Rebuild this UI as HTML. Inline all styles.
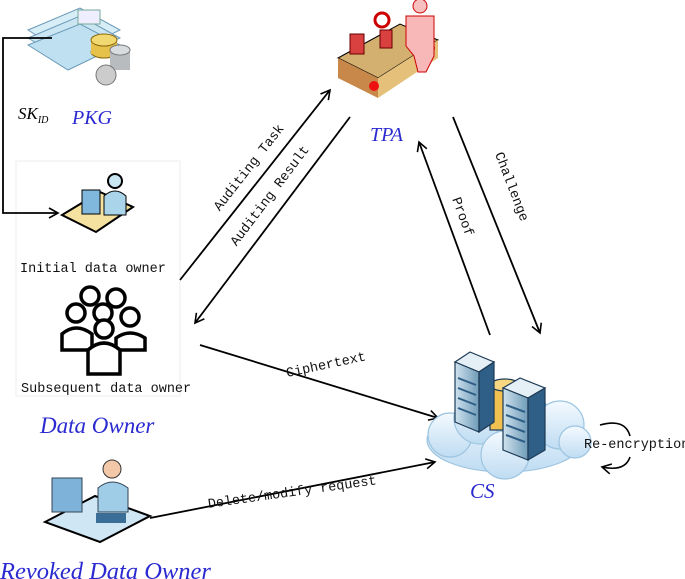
<!DOCTYPE html>
<html><head><meta charset="utf-8"><style>
html,body{margin:0;padding:0;background:#fff;}
svg{display:block;}
.m{font-family:"Liberation Mono","DejaVu Sans Mono",monospace;font-size:13.5px;fill:#111;}
.b{font-family:"Liberation Serif",serif;font-style:italic;fill:#2a2ad0;}
</style></head><body>
<svg width="685" height="579" viewBox="0 0 685 579" xmlns="http://www.w3.org/2000/svg">
<defs>
<marker id="a" markerWidth="12" markerHeight="12" refX="10" refY="6" orient="auto" markerUnits="userSpaceOnUse">
<path d="M1,1 L10,6 L1,11" fill="none" stroke="#000" stroke-width="1.6"/></marker>
<linearGradient id="cl" x1="0" y1="0" x2="0" y2="1"><stop offset="0" stop-color="#f4faff"/><stop offset="1" stop-color="#bfdcf2"/></linearGradient>
<linearGradient id="sv" x1="0" y1="0" x2="1" y2="0"><stop offset="0" stop-color="#cfe2ee"/><stop offset="1" stop-color="#6f9bb8"/></linearGradient>
</defs>
<rect x="16" y="161" width="164" height="235" fill="none" stroke="#eee" stroke-width="1"/>
<g>
<polygon points="28,30 80,8 120,30 68,55" fill="#d8eef7" stroke="#6a9ab8"/>
<polygon points="28,38 80,16 120,38 68,62" fill="#cbe6f3" stroke="#6a9ab8"/>
<polygon points="28,45 80,24 120,45 68,70" fill="#bfe0f0" stroke="#6a9ab8"/>
<rect x="78" y="10" width="22" height="14" fill="#eef" stroke="#7a9"/>
<ellipse cx="104" cy="52" rx="13" ry="6" fill="#e6c24a" stroke="#8a6a10"/>
<rect x="91" y="40" width="26" height="14" fill="#e6c24a"/>
<ellipse cx="104" cy="40" rx="13" ry="6" fill="#f2d870" stroke="#8a6a10"/>
<rect x="110" y="50" width="20" height="20" fill="#b8bcbf"/>
<ellipse cx="120" cy="50" rx="10" ry="5" fill="#d8dcdf" stroke="#777"/>
<circle cx="106" cy="75" r="10" fill="#ccc" stroke="#777"/>
</g>
<text x="18" y="119" font-family="Liberation Serif,serif" font-style="italic" font-size="17">SK<tspan font-size="10" dy="4">ID</tspan></text>
<text x="72" y="124" class="b" font-size="20">PKG</text>
<polyline points="52,38 3,38 3,213 58,213" fill="none" stroke="#000" stroke-width="1.8" marker-end="url(#a)"/>
<g>
<polygon points="62,215 100,192 133,207 96,232" fill="#f5e2a0" stroke="#000" stroke-width="2"/>
<rect x="82" y="190" width="18" height="24" fill="#7fb8dc" stroke="#000"/>
<circle cx="115" cy="181" r="7" fill="#c9e6f4" stroke="#000" stroke-width="2"/>
<path d="M104,196 Q115,186 126,196 L126,215 L104,215Z" fill="#a9d4ea" stroke="#000"/>
</g>
<text x="20" y="272" class="m">Initial data owner</text>
<g fill="#fff" stroke="#000" stroke-width="3.5">
<circle cx="90" cy="296" r="9"/><circle cx="116" cy="298" r="9"/>
<circle cx="76" cy="313" r="9"/><circle cx="103" cy="313" r="9"/><circle cx="130" cy="317" r="9"/>
<path d="M62,350 L62,334 Q76,322 92,334 L92,350Z"/>
<path d="M116,350 L116,338 Q130,328 145,338 L145,350Z"/>
<circle cx="104" cy="329" r="9"/>
<path d="M88,374 L88,350 Q104,336 120,350 L120,374Z"/>
</g>
<text x="21" y="392" class="m">Subsequent data owner</text>
<text x="40" y="433" class="b" font-size="23">Data Owner</text>
<g>
<polygon points="45,522 95,496 150,516 100,542" fill="#cfe6f5" stroke="#000" stroke-width="2"/>
<rect x="52" y="478" width="30" height="34" fill="#7fb2d8" stroke="#345"/>
<circle cx="112" cy="469" r="9" fill="#f2c8a8" stroke="#333"/>
<path d="M98,488 Q112,476 128,488 L128,512 L98,512Z" fill="#9fcde8" stroke="#345"/>
<rect x="96" y="513" width="30" height="10" fill="#3b6e96"/>
</g>
<text x="0" y="579" class="b" font-size="24.5">Revoked Data Owner</text>
<g>
<polygon points="338,58 400,24 438,40 378,78" fill="#d4b070" stroke="#000"/>
<polygon points="338,58 378,78 378,98 338,78" fill="#c7884a"/>
<polygon points="378,78 438,40 438,58 378,98" fill="#e5c07a"/>
<circle cx="374" cy="86" r="5" fill="#e11"/><circle cx="430" cy="48" r="5" fill="#e11"/>
<rect x="350" y="34" width="14" height="20" fill="#d94040" stroke="#600"/>
<rect x="380" y="30" width="12" height="18" fill="#d94040" stroke="#600"/>
<circle cx="382" cy="20" r="7" fill="#fff" stroke="#c00" stroke-width="3"/>
<circle cx="420" cy="6" r="7" fill="#f6c0c0" stroke="#c00"/>
<path d="M406,16 L434,16 L434,56 L426,72 L418,72 L414,56 L406,46Z" fill="#f8b8b8" stroke="#c00"/>
</g>
<text x="370" y="141" class="b" font-size="20">TPA</text>
<g stroke="#000" stroke-width="1.8" fill="none" marker-end="url(#a)">
<line x1="180" y1="280" x2="330" y2="90"/>
<line x1="350" y1="117" x2="195" y2="323"/>
<line x1="453" y1="117" x2="540" y2="333"/>
<line x1="490" y1="335" x2="419" y2="142"/>
<line x1="200" y1="345" x2="438" y2="418"/>
<line x1="150" y1="518" x2="435" y2="462"/>
</g>
<text class="m" transform="translate(252,170) rotate(-52)" text-anchor="middle">Auditing Task</text>
<text class="m" transform="translate(273,198) rotate(-53)" text-anchor="middle">Auditing Result</text>
<text class="m" transform="translate(508,188) rotate(69)" text-anchor="middle">Challenge</text>
<text class="m" transform="translate(459,218) rotate(70)" text-anchor="middle">Proof</text>
<text class="m" x="286" y="370" transform="rotate(-12 320 368)">Ciphertext</text>
<text class="m" x="206" y="497" transform="rotate(-8 285 485)">Delete/modify request</text>
<g fill="url(#cl)" stroke="#9cc4e0" stroke-width="1.2">
<ellipse cx="505" cy="440" rx="78" ry="32"/>
<circle cx="450" cy="435" r="22"/><circle cx="480" cy="418" r="26"/><circle cx="520" cy="415" r="28"/>
<circle cx="560" cy="425" r="24"/><circle cx="575" cy="442" r="16"/><circle cx="505" cy="455" r="24"/>
</g>
<g stroke="#1d3a55" stroke-width="1.2">
<rect x="490" y="385" width="30" height="45" fill="#f0c050"/>
<ellipse cx="505" cy="385" rx="15" ry="6" fill="#f7d880"/>
<polygon points="455,362 470,352 494,362 479,372" fill="#e4eff6"/>
<polygon points="455,362 479,372 479,432 455,422" fill="url(#sv)"/>
<polygon points="479,372 494,362 494,422 479,432" fill="#2f5f86"/>
<polygon points="503,388 520,378 545,388 528,398" fill="#e4eff6"/>
<polygon points="503,388 528,398 528,460 503,450" fill="url(#sv)"/>
<polygon points="528,398 545,388 545,450 528,460" fill="#2f5f86"/>
</g>
<g stroke="#2f5f86" stroke-width="2">
<line x1="458" y1="378" x2="476" y2="385"/><line x1="458" y1="388" x2="476" y2="395"/><line x1="458" y1="398" x2="476" y2="405"/><line x1="458" y1="408" x2="476" y2="415"/>
<line x1="506" y1="405" x2="525" y2="412"/><line x1="506" y1="415" x2="525" y2="422"/><line x1="506" y1="425" x2="525" y2="432"/><line x1="506" y1="435" x2="525" y2="442"/>
</g>
<text x="470" y="498" class="b" font-size="21">CS</text>
<path d="M600,425 Q625,418 630,436" fill="none" stroke="#000" stroke-width="1.6"/>
<path d="M630,457 Q625,472 602,467" fill="none" stroke="#000" stroke-width="1.6" marker-end="url(#a)"/>
<text x="584" y="448" class="m" font-size="13">Re-encryption</text>
</svg>
</body></html>
